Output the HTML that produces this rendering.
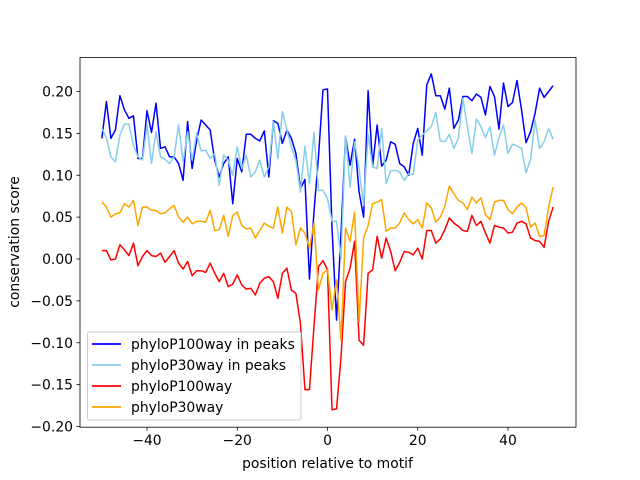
<!DOCTYPE html>
<html><head><meta charset="utf-8"><style>
html,body{margin:0;padding:0;background:#fff;}
svg{display:block;font-family:"DejaVu Sans","Liberation Sans",sans-serif;}
</style></head><body>
<svg id="chart" width="640" height="480" viewBox="0 0 640 480" xmlns="http://www.w3.org/2000/svg">
<rect width="640" height="480" fill="#fff"/>
<g id="plot"></g>
<g id="axes"></g>
<text x="327.5" y="468" font-size="13.9" text-anchor="middle">position relative to motif</text>
<text x="19" y="242" font-size="13.9" text-anchor="middle" transform="rotate(-90 19 242)">conservation score</text>
<g>
<rect x="87.5" y="332" width="213.5" height="88" rx="2" fill="#fff" fill-opacity="0.8" stroke="#ccc" stroke-width="1"/>
<g><line x1="92" y1="344" x2="121" y2="344" stroke="#0000ff" stroke-width="1.8"/><text x="131" y="349" font-size="13.9">phyloP100way in peaks</text></g>
<g><line x1="92" y1="365" x2="121" y2="365" stroke="#87ceeb" stroke-width="1.8"/><text x="131" y="370" font-size="13.9">phyloP30way in peaks</text></g>
<g><line x1="92" y1="386" x2="121" y2="386" stroke="#ff0000" stroke-width="1.8"/><text x="131" y="391" font-size="13.9">phyloP100way</text></g>
<g><line x1="92" y1="407" x2="121" y2="407" stroke="#ffa500" stroke-width="1.8"/><text x="131" y="412" font-size="13.9">phyloP30way</text></g>
</g>
</svg>
<script>
const positions = Array.from({length:101},(_, i)=>i-50);
const blueValues = [0.144,0.188,0.144,0.154,0.195,0.178,0.168,0.171,0.120,0.120,0.177,0.151,0.186,0.132,0.134,0.122,0.122,0.114,0.094,0.164,0.108,0.142,0.166,0.160,0.154,0.118,0.098,0.114,0.122,0.066,0.120,0.104,0.149,0.149,0.144,0.141,0.153,0.098,0.165,0.162,0.138,0.154,0.144,0.126,0.084,0.095,-0.024,0.056,0.122,0.202,0.203,0.037,-0.073,0.031,0.146,0.112,0.143,0.080,0.050,0.201,0.111,0.160,0.111,0.118,0.140,0.137,0.114,0.110,0.100,0.138,0.156,0.124,0.208,0.221,0.195,0.195,0.179,0.204,0.156,0.166,0.194,0.194,0.189,0.197,0.193,0.172,0.206,0.194,0.155,0.210,0.182,0.187,0.213,0.178,0.139,0.152,0.174,0.204,0.193,0.200,0.207];
const lightBlueValues = [0.156,0.145,0.122,0.116,0.148,0.161,0.161,0.136,0.122,0.118,0.160,0.114,0.152,0.122,0.119,0.114,0.122,0.160,0.116,0.152,0.118,0.150,0.129,0.130,0.120,0.126,0.088,0.124,0.118,0.100,0.134,0.108,0.124,0.098,0.104,0.118,0.098,0.110,0.164,0.120,0.176,0.154,0.134,0.118,0.080,0.135,0.090,0.151,0.082,0.082,0.072,0.045,0.045,0.001,0.147,0.086,0.140,0.108,0.064,0.149,0.110,0.108,0.156,0.090,0.105,0.106,0.104,0.094,0.102,0.101,0.142,0.148,0.153,0.158,0.175,0.141,0.140,0.149,0.132,0.144,0.192,0.158,0.126,0.167,0.158,0.145,0.158,0.124,0.145,0.160,0.126,0.137,0.135,0.132,0.103,0.119,0.166,0.132,0.140,0.156,0.143];
const redValues = [0.010,0.010,-0.001,0.000,0.017,0.011,0.004,0.019,-0.008,0.003,0.010,0.004,0.003,0.007,-0.004,0.003,0.010,-0.005,-0.012,-0.003,-0.020,-0.014,-0.014,-0.016,-0.005,-0.017,-0.027,-0.017,-0.033,-0.030,-0.019,-0.031,-0.036,-0.035,-0.043,-0.029,-0.023,-0.021,-0.027,-0.047,-0.017,-0.011,-0.037,-0.041,-0.077,-0.156,-0.156,-0.081,-0.009,-0.002,-0.013,-0.180,-0.179,-0.117,-0.027,-0.011,0.021,-0.097,-0.103,-0.017,-0.013,0.027,0.001,0.025,0.009,-0.014,-0.004,0.009,0.008,0.005,0.013,0.000,0.034,0.034,0.019,0.024,0.035,0.049,0.043,0.039,0.034,0.033,0.052,0.040,0.045,0.031,0.019,0.040,0.038,0.037,0.031,0.032,0.043,0.045,0.042,0.025,0.022,0.021,0.014,0.045,0.062];
const orangeValues = [0.068,0.062,0.050,0.054,0.055,0.066,0.062,0.070,0.040,0.062,0.062,0.058,0.058,0.054,0.055,0.060,0.064,0.050,0.044,0.050,0.042,0.045,0.045,0.044,0.058,0.034,0.035,0.052,0.027,0.052,0.056,0.040,0.036,0.037,0.025,0.034,0.043,0.039,0.037,0.062,0.031,0.062,0.057,0.017,0.037,0.031,0.013,0.043,-0.037,-0.017,-0.013,-0.061,-0.025,-0.097,0.037,0.021,0.056,-0.075,0.025,0.040,0.066,0.068,0.071,0.033,0.037,0.037,0.043,0.055,0.047,0.042,0.047,0.037,0.067,0.061,0.044,0.050,0.063,0.087,0.078,0.070,0.067,0.059,0.074,0.067,0.073,0.053,0.047,0.068,0.070,0.070,0.059,0.054,0.062,0.067,0.061,0.038,0.043,0.027,0.028,0.062,0.086];
const xTicks = [-40,-20,0,20,40];
const yTicks = [-0.20,-0.15,-0.10,-0.05,0.00,0.05,0.10,0.15,0.20];

const L=80,R=576,T=57.6,B=427.2;
const xScale = v => 327.5 + v*4.5125;
const yScale = v => 259 - v*837.5;
const NS="http://www.w3.org/2000/svg";
const plot=document.getElementById('plot'), axes=document.getElementById('axes');
function mk(tag,attrs,parent){const e=document.createElementNS(NS,tag);for(const k in attrs)e.setAttribute(k,attrs[k]);parent.appendChild(e);return e;}

const series=[[blueValues,'#0000ff','series-phylop100way-in-peaks'],[lightBlueValues,'#87ceeb','series-phylop30way-in-peaks'],[redValues,'#ff0000','series-phylop100way'],[orangeValues,'#ffa500','series-phylop30way']];
series.forEach(([vals,col,name])=>{
  const d=vals.map((v,i)=>(i?'L':'M')+xScale(positions[i]).toFixed(2)+' '+yScale(v).toFixed(2)).join(' ');
  const p=mk('path',{d:d,fill:'none',stroke:col,'stroke-width':1.5,'stroke-linejoin':'round'},plot);
  
  
});

const frame=mk('rect',{x:L,y:T,width:R-L,height:B-T,fill:'none',stroke:'#000','stroke-width':0.8},axes);


xTicks.forEach(v=>{
  const x=xScale(v);
  mk('line',{x1:x,y1:B,x2:x,y2:B+3.5,stroke:'#000','stroke-width':0.8},axes);
  const t=mk('text',{x:x,y:B+18,'font-size':13.9,'text-anchor':'middle'},axes);
  t.textContent=(v<0?'\u2212':'')+Math.abs(v);
  
  
});
yTicks.forEach(v=>{
  const y=yScale(v);
  mk('line',{x1:L-3.5,y1:y,x2:L,y2:y,stroke:'#000','stroke-width':0.8},axes);
  const t=mk('text',{x:L-7,y:y+5,'font-size':13.9,'text-anchor':'end'},axes);
  t.textContent=(v<0?'\u2212':'')+Math.abs(v).toFixed(2);
  
  
});
</script>
</body></html>
